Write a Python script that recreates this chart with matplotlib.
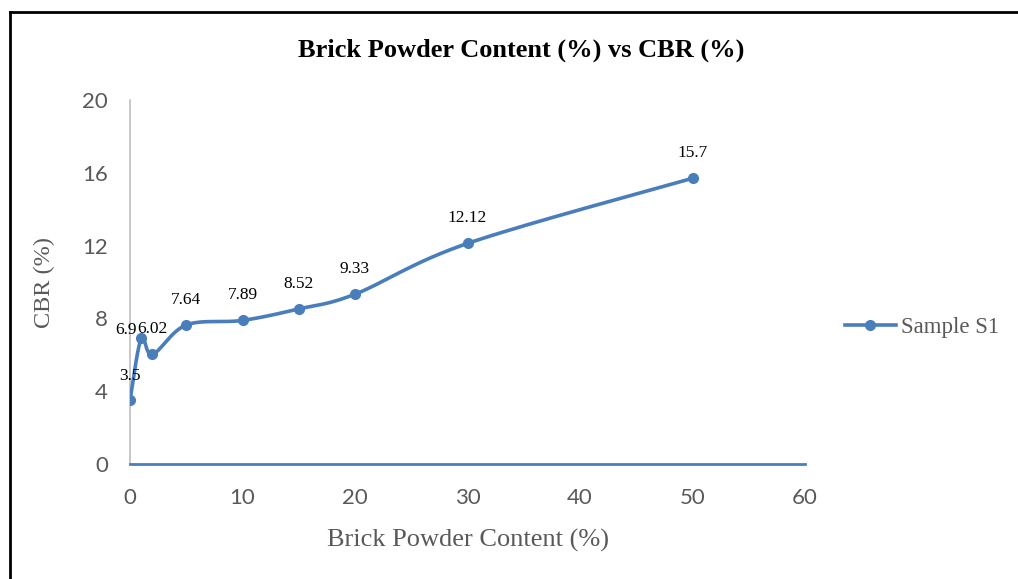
import numpy as np
import matplotlib
matplotlib.use("Agg")
import matplotlib.pyplot as plt
from matplotlib.lines import Line2D

content = [0, 1, 2, 5, 10, 15, 20, 30, 50]
cbr = [3.5, 6.9, 6.02, 7.64, 7.89, 8.52, 9.33, 12.12, 15.7]
labels = ["3.5", "6.9", "6.02", "7.64", "7.89", "8.52", "9.33", "12.12", "15.7"]
xticks = [0, 10, 20, 30, 40, 50, 60]
yticks = [0, 4, 8, 12, 16, 20]

color = "#4a7ebb"
gray = "#595959"
serif = ["Liberation Serif", "DejaVu Serif"]
sans = ["Lato", "DejaVu Sans"]


def smooth(x, y, n=30):
    # Excel-like smoothing: cubic Bezier with Catmull-Rom control points
    x = np.asarray(x, float)
    y = np.asarray(y, float)
    px = np.concatenate([[x[0]], x, [x[-1]]])
    py = np.concatenate([[y[0]], y, [y[-1]]])
    xs, ys = [], []
    t = np.linspace(0, 1, n)
    for i in range(1, len(px) - 2):
        p0 = np.array([px[i], py[i]])
        p3 = np.array([px[i + 1], py[i + 1]])
        p1 = p0 + (np.array([px[i + 1], py[i + 1]]) - np.array([px[i - 1], py[i - 1]])) / 6
        p2 = p3 - (np.array([px[i + 2], py[i + 2]]) - np.array([px[i], py[i]])) / 6
        b = ((1 - t) ** 3)[:, None] * p0 + (3 * (1 - t) ** 2 * t)[:, None] * p1 \
            + (3 * (1 - t) * t ** 2)[:, None] * p2 + (t ** 3)[:, None] * p3
        xs.extend(b[:, 0])
        ys.extend(b[:, 1])
    return np.array(xs), np.array(ys)


fig = plt.figure(figsize=(10.18, 5.79), dpi=100)
ax = fig.add_axes([0.1277, 0.1986, 0.6631, 0.6287])

sx, sy = smooth(content, cbr)
ax.plot(sx, sy, color=color, lw=2.6, solid_capstyle="round", zorder=3)
ax.plot(content, cbr, "o", color=color, ms=7, zorder=4)

# label offsets in pixels (dx, dy) relative to the point
offsets = [(0, 24), (-15, 8), (0, 25), (0, 25), (0, 25), (0, 25), (0, 25), (0, 25), (0, 25)]
for (x, y, s), (dx, dy) in zip(zip(content, cbr, labels), offsets):
    ax.annotate(s, (x, y), xytext=(dx * 0.72, dy * 0.72), textcoords="offset points",
                ha="center", va="center", fontsize=12.5, family=serif, color="black")

ax.set_xlim(0, 60)
ax.set_ylim(0, 20)
ax.set_xticks(xticks)
ax.set_yticks(yticks)
ax.tick_params(length=0, labelsize=16, labelcolor=gray)
ax.tick_params(axis="y", pad=16)
ax.tick_params(axis="x", pad=17)
for lab in ax.get_xticklabels() + ax.get_yticklabels():
    lab.set_family(sans)

for s in ["top", "right"]:
    ax.spines[s].set_visible(False)
ax.spines["left"].set_color("#bfbfbf")
ax.spines["left"].set_linewidth(1.2)
ax.spines["bottom"].set_color(color)
ax.spines["bottom"].set_linewidth(2)

ax.set_xlabel("Brick Powder Content (%)", family=serif, fontsize=19, color=gray, labelpad=15)
ax.set_ylabel("CBR (%)", family=serif, fontsize=17.5, color=gray, labelpad=19)
fig.text(0.512, 0.913, "Brick Powder Content (%) vs CBR (%)", ha="center", va="center",
         family=serif, fontsize=19, fontweight="bold", color="black")

handle = Line2D([], [], color=color, lw=2.6, marker="o", ms=7)
fig.legend([handle], ["Sample S1"], loc="center left", bbox_to_anchor=(0.81, 0.435),
           frameon=False, prop={"family": serif, "size": 16.5}, labelcolor=gray,
           handlelength=2.2, handletextpad=0.25)

# outer frame lines (top and left)
fig.add_artist(Line2D([0.0098, 1.0], [0.979, 0.979], color="black", lw=2, transform=fig.transFigure))
fig.add_artist(Line2D([0.0098, 0.0098], [0.0, 0.979], color="black", lw=2, transform=fig.transFigure))

fig.savefig("out.png", dpi=100)
